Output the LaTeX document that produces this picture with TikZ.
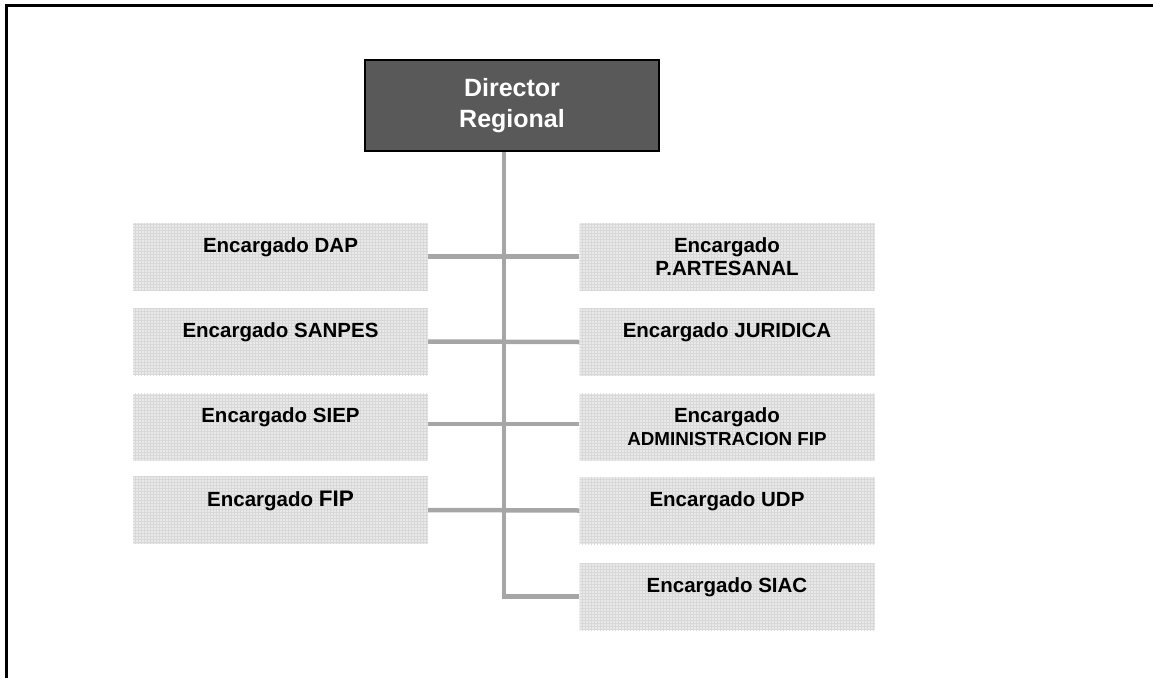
\documentclass[tikz,border=0pt]{standalone}
\usepackage{fontspec}
\setmainfont{Liberation Sans}
\usetikzlibrary{patterns}
\definecolor{headgray}{HTML}{595959}
\definecolor{boxgray}{HTML}{E9E9E9}
\definecolor{gridgray}{HTML}{D8D8D8}
\definecolor{linkgray}{HTML}{A6A6A6}
\tikzset{
    head/.style={draw=black, line width=1.5pt, fill=headgray, text=white,
        minimum width=294pt, minimum height=91pt, inner sep=0pt, align=center,
        font=\bfseries\fontsize{25}{31}\selectfont},
    unit/.style={fill=boxgray, postaction={pattern=grid, pattern color=gridgray},
        minimum width=295pt, minimum height=67pt, inner sep=0pt, align=center,
        font=\bfseries\fontsize{20.5}{23}\selectfont},
    link/.style={draw=linkgray, line width=4.5pt}
}
\begin{document}
\begin{tikzpicture}[x=1pt,y=-1pt]
    \useasboundingbox (0,0) rectangle (1153,677);
    % marco
    \draw[line width=3pt] (6,680) -- (6,6) -- (1156,6);
    % jefatura
    \node[head] (director) at (512,105.5) {Director\\Regional};
    % columna izquierda
    \node[unit] (dap) at (280.5,256.5) {Encargado DAP\\\mbox{}};
    \node[unit] (sanpes) at (280.5,341.5) {Encargado SANPES\\\mbox{}};
    \node[unit] (siep) at (280.5,427) {Encargado SIEP\\\mbox{}};
    \node[unit] (fip) at (280.5,510) {Encargado {\fontsize{22.5}{23}\selectfont FIP}\\\mbox{}};
    % columna derecha
    \node[unit] (artesanal) at (727,256.5) {Encargado\\P.ARTESANAL};
    \node[unit] (juridica) at (727,342) {Encargado JURIDICA\\\mbox{}};
    \node[unit] (admin) at (727,427) {Encargado\\{\fontsize{18.8}{23}\selectfont ADMINISTRACION FIP}};
    \node[unit] (udp) at (727,510.5) {Encargado UDP\\\mbox{}};
    \node[unit] (siac) at (727,596.5) {Encargado SIAC\\\mbox{}};
    % conectores
    \coordinate (trunk) at ([xshift=-8pt]director.south);
    \coordinate (elbow) at (trunk |- siac.west);
    \draw[link] (trunk) -- (elbow) -- (siac.west);
    \draw[link] (dap.east) -- (artesanal.west);
    \draw[link] (sanpes.east) -- (juridica.west);
    \draw[link] ([yshift=3pt]siep.east) -- ([yshift=3pt]admin.west);
    \draw[link] (fip.east) -- (udp.west);
\end{tikzpicture}
\end{document}
